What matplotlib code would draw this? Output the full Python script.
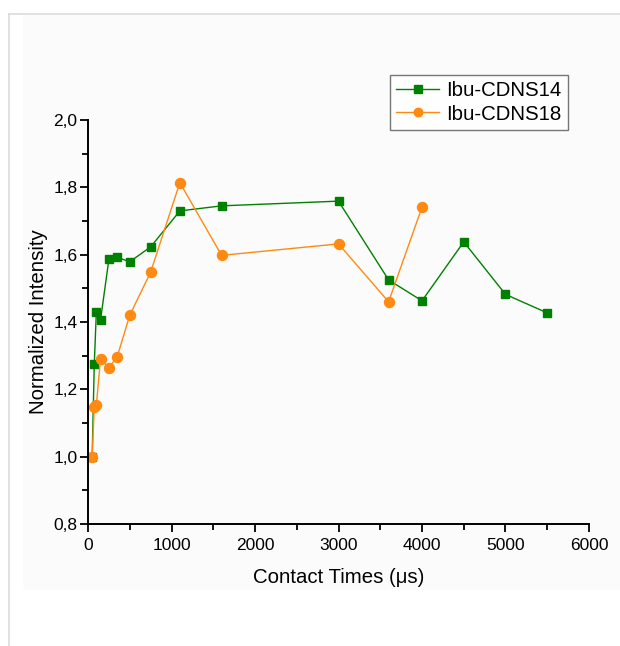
import numpy as np
import matplotlib
matplotlib.use('Agg')
from matplotlib import pyplot as plt
from matplotlib.ticker import MultipleLocator, FuncFormatter
from matplotlib.patches import Rectangle
from matplotlib.lines import Line2D

# donnees
temps_14 = [50, 75, 100, 150, 250, 350, 500, 750, 1100, 1600, 3000, 3600, 4000, 4500, 5000, 5500]
intens_14 = [1.0, 1.274, 1.430, 1.406, 1.586, 1.592, 1.579, 1.623, 1.730, 1.745, 1.759, 1.525, 1.463, 1.638, 1.482, 1.427]
temps_18 = [50, 75, 100, 150, 250, 350, 500, 750, 1100, 1600, 3000, 3600, 4000]
intens_18 = [1.0, 1.148, 1.153, 1.291, 1.264, 1.297, 1.420, 1.548, 1.814, 1.598, 1.632, 1.460, 1.741]
noms = ['Ibu-CDNS14', 'Ibu-CDNS18']

plt.rcParams['font.family'] = ['Liberation Sans', 'DejaVu Sans']

fig = plt.figure(figsize=(6.2, 6.46), dpi=100)
# fond de page
fig.patches.append(Rectangle((23/620, 1-590/646), 1, 576/646, transform=fig.transFigure,
                             facecolor='#fbfbfb', edgecolor='none', zorder=-10))
fig.lines.append(Line2D([9/620, 1], [1-14/646, 1-14/646], transform=fig.transFigure,
                        color='#dcdcdc', lw=1.2, zorder=-5))
fig.lines.append(Line2D([9/620, 9/620], [1-14/646, 0], transform=fig.transFigure,
                        color='#dcdcdc', lw=1.2, zorder=-5))

ax = fig.add_axes([88/620, 1-524/646, 501/620, 404/646])
ax.patch.set_alpha(0)

vert = '#008000'
orange = '#FF8A12'
l1, = ax.plot(temps_14, intens_14, color=vert, lw=1.0, marker='s', markersize=6.3, label=noms[0])
l2, = ax.plot(temps_18, intens_18, color=orange, lw=1.0, marker='o', markersize=7.2, label=noms[1])

ax.set_xlim(0, 6000)
ax.set_ylim(0.8, 2.0)
ax.xaxis.set_major_locator(MultipleLocator(1000))
ax.xaxis.set_minor_locator(MultipleLocator(500))
ax.yaxis.set_major_locator(MultipleLocator(0.2))
ax.yaxis.set_minor_locator(MultipleLocator(0.1))
ax.yaxis.set_major_formatter(FuncFormatter(lambda v, p: ('%.1f' % v).replace('.', ',')))

for cote in ['top', 'right']:
    ax.spines[cote].set_visible(False)
for cote in ['left', 'bottom']:
    ax.spines[cote].set_linewidth(1.4)
ax.tick_params(which='major', direction='out', length=6, width=1.3, labelsize=12.5)
ax.tick_params(which='minor', direction='out', length=4, width=1.3)
ax.tick_params(axis='x', which='major', pad=4)
ax.tick_params(axis='y', which='major', pad=1.5)

ax.set_xlabel('Contact Times (\u03bcs)', fontsize=14.7, labelpad=11)
ax.set_ylabel('Normalized Intensity', fontsize=14.7, labelpad=4)

leg = ax.legend(handles=[l1, l2], loc='upper left', bbox_to_anchor=(390/620, 1-75/646),
                bbox_transform=fig.transFigure, fontsize=14.7, frameon=True, fancybox=False,
                borderpad=0.3, handlelength=2.1, handletextpad=0.35, labelspacing=0.22,
                borderaxespad=0, markerscale=0.85)
leg.get_frame().set_edgecolor('#555555')
leg.get_frame().set_linewidth(1.0)
leg.get_frame().set_facecolor('white')
leg.set_clip_on(False)

fig.savefig('out.png', dpi=100)
